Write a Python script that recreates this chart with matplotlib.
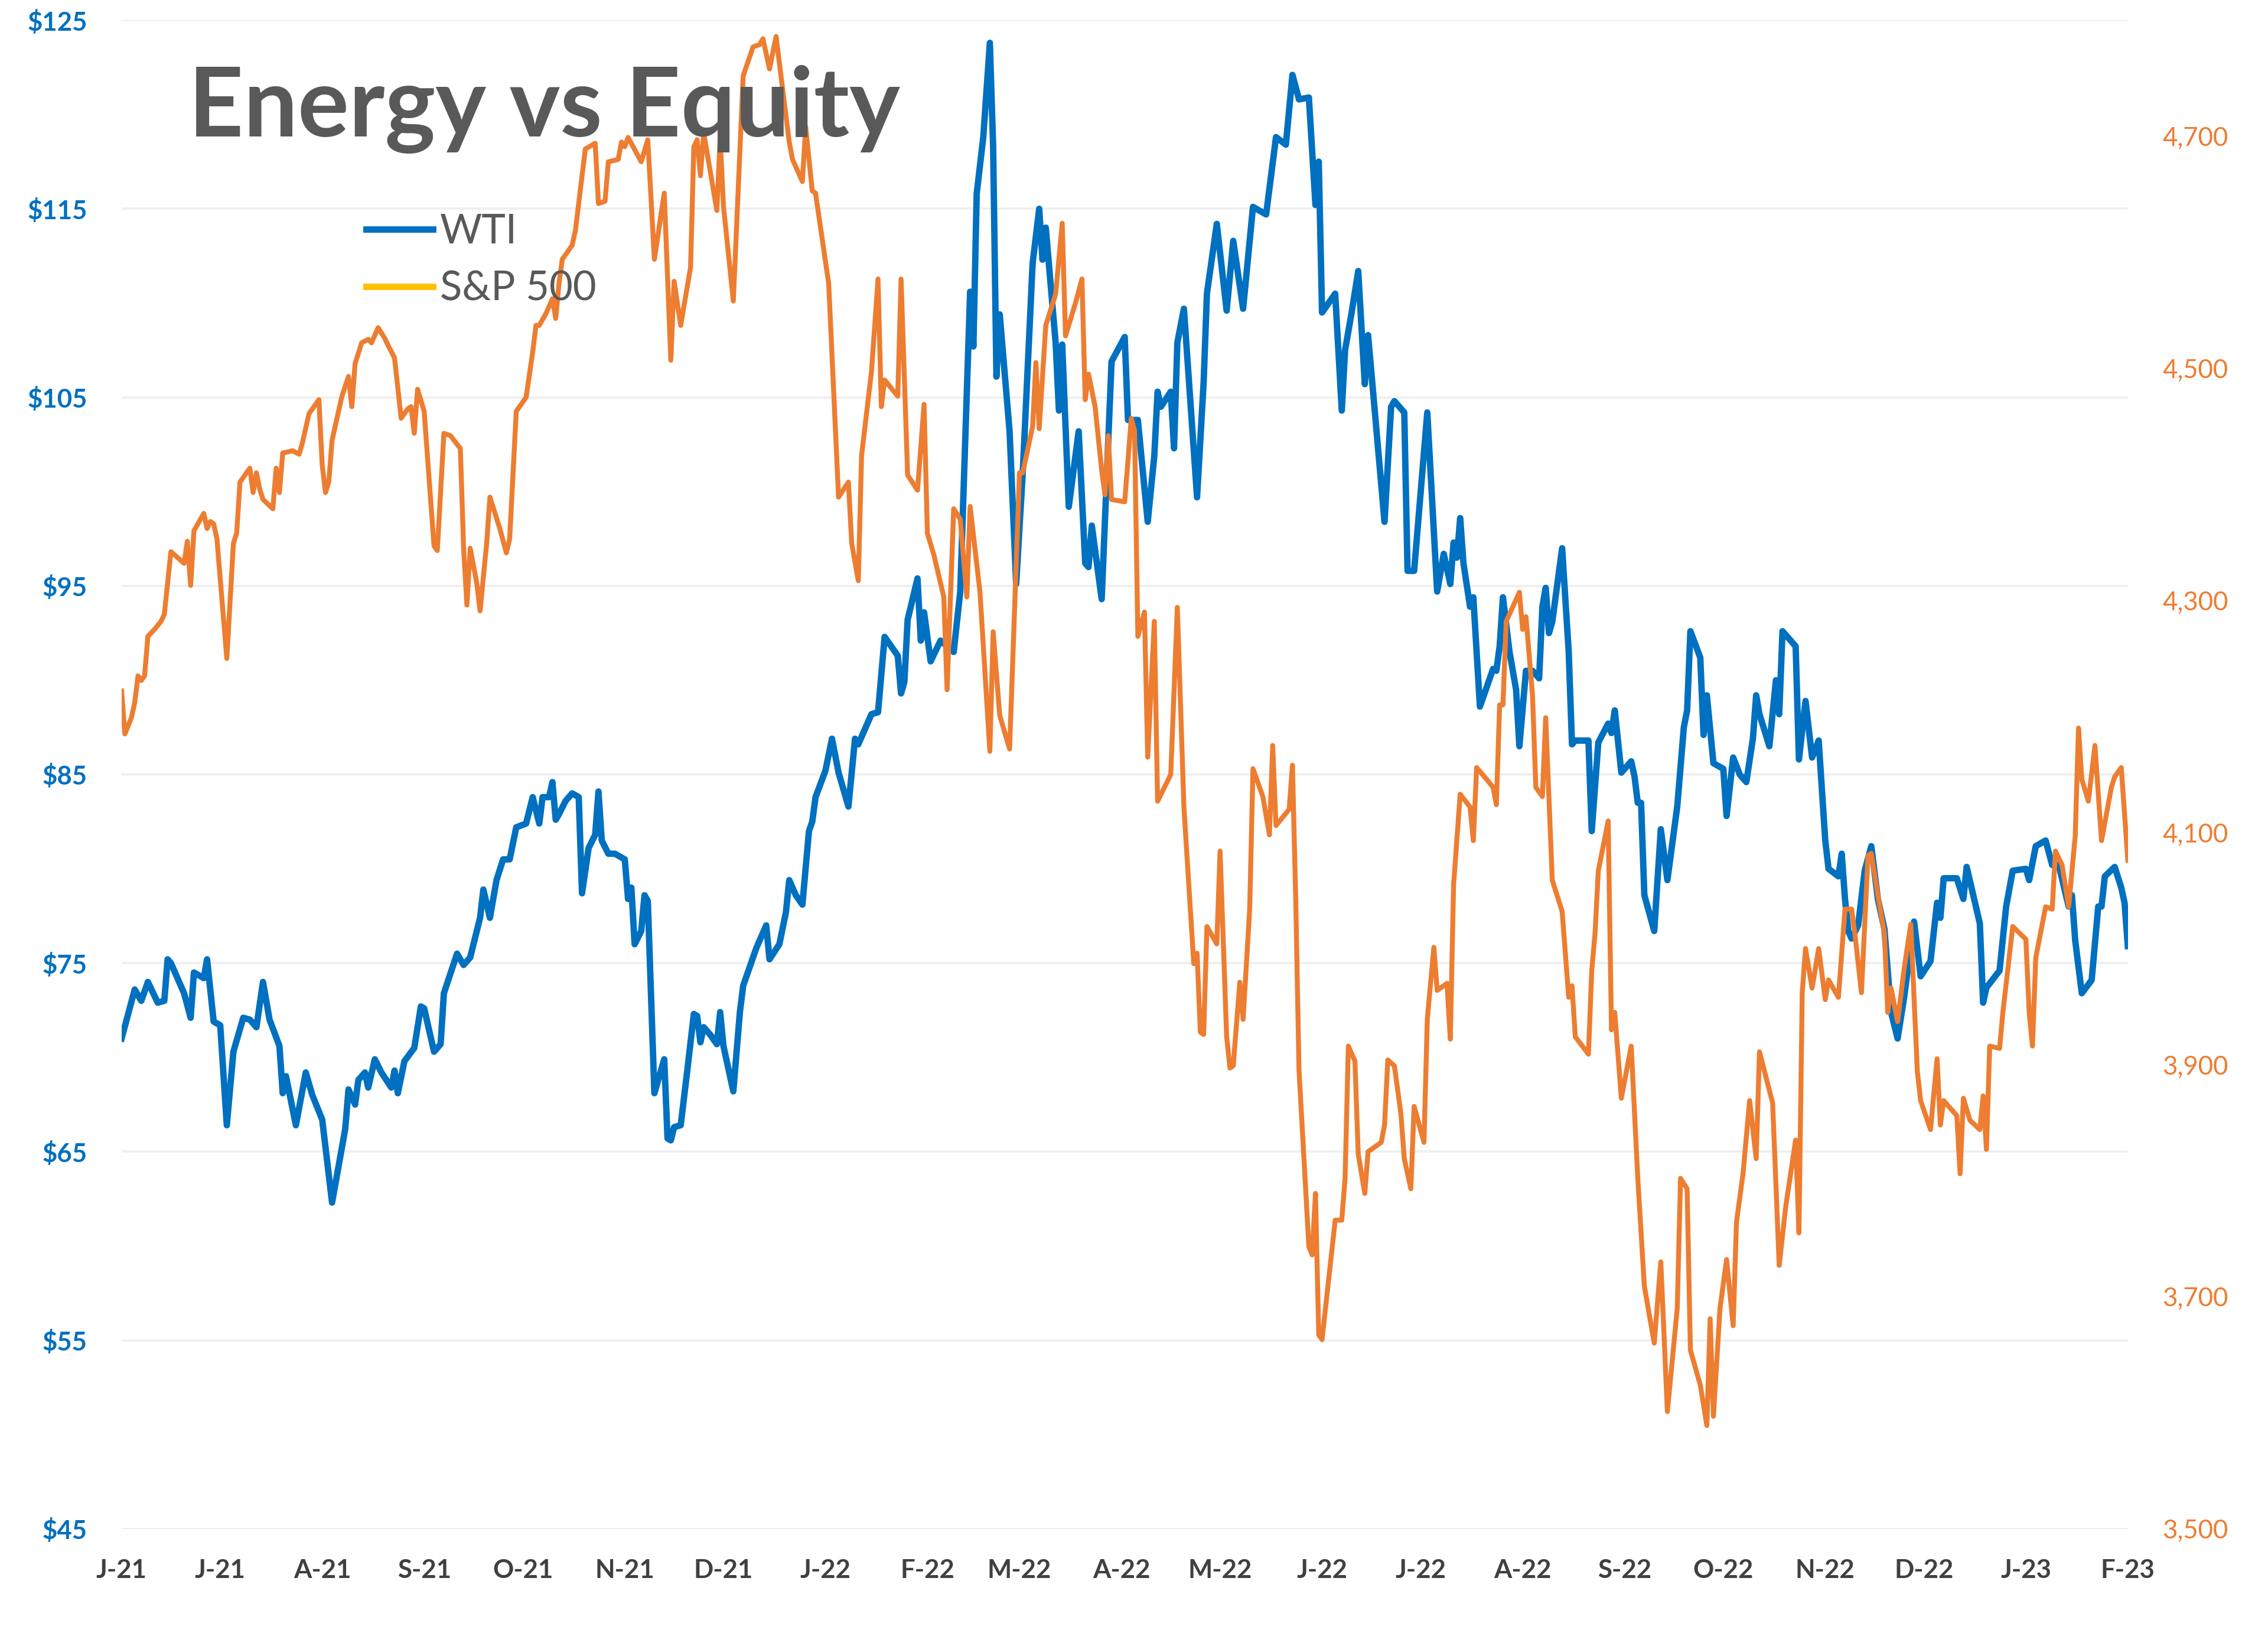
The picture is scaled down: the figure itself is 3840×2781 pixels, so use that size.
import pandas as pd
import matplotlib.pyplot as plt
from matplotlib.lines import Line2D
from matplotlib.ticker import FuncFormatter

plt.rcParams["font.family"] = ["Lato", "DejaVu Sans"]

start = pd.Timestamp("2021-06-01")
end = pd.Timestamp("2023-02-01")

# WTI crude, $/bbl (days counted from 1 Jun 2021)
wti_day = [
    0, 4, 6, 8, 11, 13, 14, 15, 19, 21, 22, 25, 26, 28,
    30, 32, 34, 37, 39, 41, 43, 45, 48, 49, 50, 53, 56, 58,
    61, 64, 68, 69, 71, 72, 74, 75, 77, 79, 82, 83, 84, 86, 89, 91,
    92, 95, 97, 98, 102, 104, 106, 109, 110, 112, 114, 116, 118, 120,
    123, 125, 127, 128, 130, 131, 132, 133, 135, 137, 139, 140, 142, 144, 145, 146, 148, 150,
    153, 154, 155, 156, 158, 159, 160, 162, 165, 166, 167, 168, 170, 172, 174, 175, 176, 177, 179, 181,
    182, 183, 186, 188, 189, 193, 196, 197, 200, 202, 203, 205, 207, 209, 210, 211,
    214, 216, 218, 221, 223, 224, 228, 230, 232, 236, 237, 238, 239, 242, 243, 244,
    246, 249, 253, 255, 258, 259, 260, 262, 264, 265, 266, 267, 270, 272,
    274, 277, 279, 280, 281, 284, 285, 286, 288, 291, 293, 294, 295, 298, 301,
    305, 306, 309, 312, 314, 315, 316, 319, 320, 321, 323, 327, 329, 330, 333,
    336, 338, 341, 344, 348, 351, 354, 356, 358, 361, 363, 364,
    365, 369, 371, 372, 374, 376, 378, 379, 384, 386, 387, 390, 391, 393,
    397, 400, 402, 404, 405, 406, 407, 408, 410, 411, 413, 417, 418, 419, 420, 422, 424,
    425, 427, 429, 431, 432, 433, 434, 435, 438, 440, 441, 442, 446, 447, 449, 452, 453, 454, 456,
    459, 460, 461, 462, 463, 466, 468, 470, 473, 475, 476, 477, 480, 481, 482, 484,
    487, 488, 490, 492, 494, 496, 497, 498, 501, 503, 504, 505, 509, 510, 512, 514, 516,
    518, 519, 522, 523, 524, 525, 526, 528, 530, 532, 534, 536, 538, 540, 542, 545, 547,
    550, 552, 553, 554, 558, 560, 561, 565, 566, 567, 571, 573, 575,
    579, 580, 582, 585, 587, 589, 592, 593, 594, 596, 599, 601, 602, 603, 606, 608, 609, 610,
]
wti_price = [
    71.0, 73.6, 73.0, 74.0, 72.9, 73.0, 75.2, 75.0, 73.4, 72.1, 74.5, 74.2, 75.2, 71.9,
    71.7, 66.4, 70.3, 72.1, 72.0, 71.6, 74.0, 72.0, 70.6, 68.1, 69.0, 66.4, 69.2, 68.0,
    66.7, 62.3, 66.2, 68.3, 67.5, 68.8, 69.2, 68.4, 69.9, 69.2, 68.4, 69.3, 68.1, 69.8, 70.5, 72.7,
    72.6, 70.3, 70.7, 73.4, 75.5, 74.9, 75.3, 77.4, 78.9, 77.4, 79.4, 80.5, 80.5, 82.2,
    82.4, 83.8, 82.4, 83.8, 83.8, 84.6, 82.6, 82.9, 83.6, 84.0, 83.8, 78.7, 81.1, 81.8, 84.1, 81.5, 80.8, 80.8,
    80.5, 78.4, 79.0, 76.0, 76.7, 78.6, 78.3, 68.1, 69.9, 65.7, 65.6, 66.3, 66.4, 69.3, 72.3, 72.2, 70.8, 71.6, 71.2, 70.7,
    72.4, 70.6, 68.2, 72.4, 73.8, 75.8, 77.0, 75.2, 76.0, 77.7, 79.4, 78.6, 78.1, 82.0, 82.5, 83.8,
    85.2, 86.9, 85.1, 83.3, 86.9, 86.6, 88.2, 88.3, 92.3, 91.3, 89.3, 89.9, 93.2, 95.4, 92.1, 93.6,
    91.0, 92.1, 91.5, 94.7, 110.6, 107.7, 115.8, 118.8, 123.8, 118.3, 106.1, 109.4, 103.2, 95.1,
    101.0, 112.1, 115.0, 112.3, 114.0, 107.9, 104.3, 107.8, 99.2, 103.2, 96.2, 96.0, 98.2, 94.3, 106.9,
    108.2, 103.8, 103.8, 98.4, 101.9, 105.3, 104.5, 105.3, 102.3, 107.9, 109.7, 99.7, 105.8, 110.5, 114.2,
    109.6, 113.3, 109.7, 115.1, 114.7, 118.8, 118.4, 122.1, 120.8, 120.9, 115.2, 117.5,
    109.5, 110.5, 104.3, 107.5, 109.5, 111.7, 105.7, 108.3, 98.4, 104.5, 104.8, 104.2, 95.8, 95.8,
    104.2, 94.7, 96.7, 95.1, 97.3, 96.5, 98.6, 96.2, 93.9, 94.4, 88.6, 90.6, 90.5, 91.8, 94.4, 91.5, 89.5,
    86.5, 90.5, 90.5, 90.1, 93.9, 94.9, 92.5, 93.1, 97.0, 91.5, 86.6, 86.8, 86.8, 82.0, 86.7, 87.7, 87.2, 88.4, 85.1,
    85.7, 84.9, 83.5, 83.5, 78.6, 76.7, 82.1, 79.4, 83.3, 87.5, 88.4, 92.6, 91.2, 87.1, 89.2, 85.6,
    85.3, 82.8, 85.9, 85.0, 84.6, 86.9, 89.2, 88.2, 86.5, 90.0, 88.2, 92.6, 91.8, 85.8, 88.9, 85.9, 86.8,
    81.5, 80.0, 79.6, 80.8, 78.4, 76.7, 76.3, 77.0, 79.9, 81.2, 78.4, 76.8, 72.4, 71.0, 73.2, 77.2, 74.3,
    75.1, 78.2, 77.4, 79.5, 79.5, 78.4, 80.1, 77.1, 72.9, 73.7, 74.6, 78.0, 79.9,
    80.0, 79.4, 81.2, 81.5, 80.2, 80.2, 78.0, 78.6, 76.2, 73.4, 74.1, 78.0, 78.0, 79.6, 80.1, 79.0, 78.2, 75.9,
]

# S&P 500 index level (days counted from 1 Jun 2021)
spx_day = [
    0, 1, 3, 4, 5, 6, 7, 8, 10, 12, 13, 15, 19, 20, 21, 22, 25, 26, 27, 28, 29,
    32, 34, 35, 36, 39, 40, 41, 42, 43, 46, 47, 48, 49, 52, 54, 55, 57, 60,
    61, 62, 63, 64, 67, 69, 70, 71, 73, 75, 76, 78, 80, 81, 83, 85, 87, 88, 89, 90,
    92, 95, 96, 98, 100, 103, 104, 105, 106, 108, 109, 111, 112, 115, 117, 118, 120,
    123, 125, 126, 127, 129, 131, 132, 133, 134, 137, 138, 141, 144, 145, 147, 148, 151,
    152, 153, 154, 158, 160, 162, 165, 167, 168, 170, 173, 174, 175, 176, 177, 181,
    182, 183, 186, 189, 192, 194, 195, 197, 199, 203, 204, 207, 208, 210, 211,
    215, 218, 221, 222, 224, 225, 228, 230, 231, 232, 236, 237, 239, 242, 244,
    245, 247, 250, 251, 253, 255, 257, 258, 261, 264, 265, 267, 270,
    273, 274, 277, 278, 279, 281, 284, 286, 287, 290, 292, 293, 294, 296, 298, 299, 300, 301,
    305, 307, 308, 309, 311, 312, 314, 315, 319, 321, 323, 326, 327, 328, 329, 330, 333,
    334, 336, 337, 338, 340, 341, 343, 344, 347, 349, 350, 351, 355, 356, 357, 358, 361, 362, 363, 364,
    365, 369, 371, 372, 373, 375, 376, 378, 379, 383, 384, 385, 387, 389, 390, 392, 393,
    396, 397, 399, 400, 403, 404, 405, 407, 410, 411, 412, 415, 417, 418, 419, 420, 421, 425,
    426, 427, 429, 430, 432, 433, 435, 438, 440, 441, 442, 446, 447, 448, 449, 452, 453, 454, 456,
    459, 461, 463, 466, 468, 470, 473, 474, 476, 477, 480, 482, 483, 484, 486,
    488, 490, 491, 493, 495, 497, 498, 502, 504, 506, 509, 510, 511, 512, 514, 516,
    518, 519, 522, 524, 526, 527, 529, 531, 532, 534, 536, 537, 538, 540, 542, 544, 546, 547,
    550, 552, 553, 554, 558, 559, 560, 562, 565, 566, 567, 568, 571, 572, 575,
    579, 580, 581, 582, 585, 587, 588, 590, 592, 594, 595, 596, 598, 600, 602, 605, 606, 608, 610,
]
spx_level = [
    4222, 4185, 4199, 4212, 4235, 4231, 4235, 4269, 4275, 4282, 4288, 4342, 4332, 4351, 4313, 4360, 4375, 4362, 4368, 4366, 4353,
    4250, 4349, 4358, 4402, 4414, 4393, 4410, 4396, 4387, 4379, 4414, 4393, 4427, 4429, 4426, 4436, 4461, 4473,
    4417, 4393, 4402, 4438, 4476, 4493, 4467, 4504, 4522, 4525, 4522, 4535, 4526, 4520, 4509, 4457, 4465, 4467, 4444, 4482,
    4463, 4347, 4343, 4444, 4442, 4431, 4345, 4296, 4345, 4315, 4291, 4349, 4389, 4362, 4341, 4353, 4463,
    4475, 4514, 4537, 4537, 4547, 4560, 4543, 4573, 4594, 4606, 4619, 4689, 4694, 4642, 4644, 4678, 4680,
    4695, 4691, 4699, 4678, 4697, 4594, 4651, 4507, 4575, 4537, 4587, 4691, 4697, 4666, 4703, 4636,
    4699, 4640, 4558, 4752, 4777, 4779, 4784, 4758, 4786, 4695, 4680, 4661, 4708, 4653, 4651,
    4573, 4389, 4402, 4349, 4317, 4425, 4497, 4577, 4467, 4490, 4476, 4577, 4408, 4395, 4469,
    4358, 4339, 4303, 4223, 4379, 4370, 4303, 4381, 4307, 4170, 4273, 4201, 4172,
    4410, 4410, 4450, 4505, 4448, 4537, 4564, 4625, 4528, 4556, 4577, 4473, 4495, 4467, 4412, 4391, 4442, 4387,
    4385, 4457, 4446, 4269, 4290, 4165, 4282, 4127, 4150, 4294, 4122, 3987, 3996, 3928, 3926, 4019, 4004,
    4084, 3924, 3897, 3899, 3971, 3939, 4034, 4155, 4131, 4098, 4175, 4106, 4120, 4158, 4042, 3895, 3743, 3736, 3789, 3667,
    3663, 3766, 3766, 3802, 3916, 3903, 3823, 3789, 3825, 3833, 3848, 3904, 3899, 3857, 3819, 3793, 3864,
    3833, 3939, 4001, 3964, 3970, 3922, 4055, 4133, 4122, 4093, 4156, 4146, 4139, 4124, 4210, 4210, 4282, 4307,
    4275, 4286, 4218, 4139, 4131, 4199, 4059, 4032, 3958, 3968, 3924, 3909, 3981, 4013, 4067, 4110, 3930, 3945, 3871,
    3916, 3802, 3709, 3660, 3730, 3601, 3690, 3802, 3793, 3654, 3624, 3589, 3681, 3597, 3690,
    3732, 3675, 3764, 3806, 3869, 3819, 3911, 3867, 3727, 3778, 3835, 3755, 3962, 4000, 3966, 4000,
    3956, 3973, 3958, 4034, 4034, 4013, 3962, 4080, 4082, 4046, 4013, 3945, 3966, 3937, 3983, 4021, 3894, 3869,
    3844, 3905, 3848, 3869, 3856, 3806, 3871, 3852, 3844, 3873, 3827, 3916, 3914, 3945, 4019,
    4008, 3945, 3916, 3992, 4036, 4034, 4084, 4072, 4036, 4097, 4190, 4146, 4127, 4175, 4093, 4139, 4148, 4156, 4076,
]

wti_ticks = [45, 55, 65, 75, 85, 95, 105, 115, 125]
spx_ticks = [3500, 3700, 3900, 4100, 4300, 4500, 4700]
month_starts = pd.date_range(start, end, freq="MS")
month_labels = [d.strftime("%b")[0] + "-" + d.strftime("%y") for d in month_starts]

blue = "#0070C0"
orange = "#ED7D31"
gray = "#404040"

wti_dates = start + pd.to_timedelta(wti_day, unit="D")
spx_dates = start + pd.to_timedelta(spx_day, unit="D")

fig = plt.figure(figsize=(12.8, 9.27), dpi=300)
ax = fig.add_axes([0.0536, 0.0695, 0.8846, 0.9182])
ax2 = ax.twinx()

ax.plot(wti_dates, wti_price, color=blue, linewidth=2.6, solid_joinstyle="round")
ax2.plot(spx_dates, spx_level, color=orange, linewidth=2.0, solid_joinstyle="round")

ax.set_xlim(start, end)
ax.set_ylim(45, 125)
ax2.set_ylim(3500, 4800)

ax.set_yticks(wti_ticks)
ax.yaxis.set_major_formatter(FuncFormatter(lambda v, p: f"${v:.0f}"))
ax2.set_yticks(spx_ticks)
ax2.yaxis.set_major_formatter(FuncFormatter(lambda v, p: f"{v:,.0f}"))
ax.set_xticks(month_starts)
ax.set_xticklabels(month_labels)

ax.grid(axis="y", color="#EFEFEF", linewidth=0.9)
ax.set_axisbelow(True)
for a in (ax, ax2):
    for s in a.spines.values():
        s.set_visible(False)

ax.tick_params(axis="y", length=0, pad=14, labelsize=10.5, labelcolor=blue)
ax.tick_params(axis="x", length=0, pad=12, labelsize=10.5, labelcolor=gray)
ax2.tick_params(axis="y", length=0, pad=14, labelsize=10.5, labelcolor=orange)
for lbl in ax.get_yticklabels() + ax.get_xticklabels():
    lbl.set_fontweight("bold")

ax2.text(0.0332, 0.923, "Energy vs Equity", transform=ax.transAxes,
         fontsize=39, fontweight="bold", color="#595959", va="baseline", zorder=10)

handles = [
    Line2D([], [], color=blue, linewidth=2.6),
    Line2D([], [], color="#FFC000", linewidth=2.6),
]
leg = ax2.legend(handles, ["WTI", "S&P 500"], loc="upper left",
                 bbox_to_anchor=(0.122, 0.872), frameon=False, fontsize=16.5,
                 handlelength=1.64, handletextpad=0.18, labelspacing=0.49,
                 borderpad=0, borderaxespad=0)
for t in leg.get_texts():
    t.set_color("#595959")
leg.set_zorder(10)

fig.savefig("out.png", dpi=300, facecolor="white")
